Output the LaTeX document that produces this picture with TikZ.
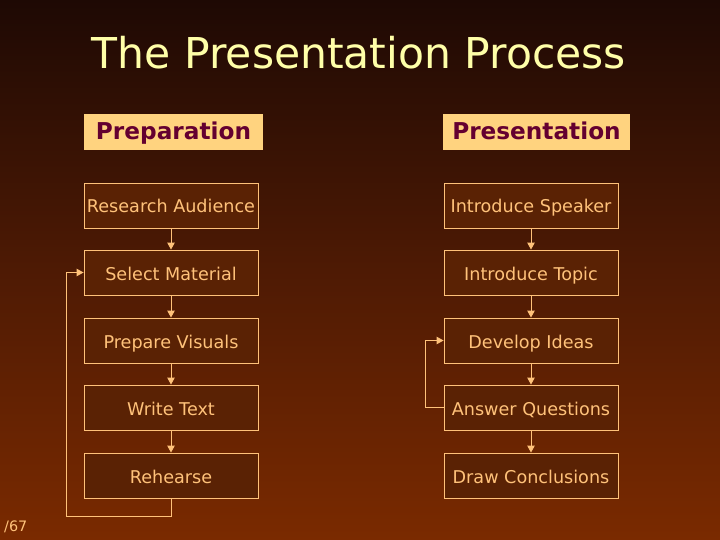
\documentclass[tikz,border=0pt]{standalone}
\usepackage{fontspec}
\setmainfont{DejaVu Sans}
\usetikzlibrary{arrows.meta}
\definecolor{bgtop}{HTML}{1E0904}
\definecolor{bgmid}{HTML}{4E1A04}
\definecolor{bgbot}{HTML}{7A2A00}
\definecolor{boxfill}{HTML}{5A2204}
\definecolor{boxline}{HTML}{FFC27A}
\definecolor{boxtext}{HTML}{FFC27A}
\definecolor{headfill}{HTML}{FFD37F}
\definecolor{headtext}{HTML}{640030}
\definecolor{titlecol}{HTML}{FFFFA8}
\tikzset{
  stepbox/.style={draw=boxline, line width=0.9pt, fill=boxfill, text=boxtext,
    minimum width=174pt, minimum height=45pt, inner sep=0pt,
    text height=17.5pt, text depth=2.5pt,
    font=\fontsize{17.6pt}{20pt}\selectfont},
  headbox/.style={fill=headfill, text=headtext, inner sep=0pt,
    minimum height=36pt, text height=19.5pt, text depth=3.5pt,
    font=\fontsize{23.2pt}{26pt}\selectfont\bfseries},
  flow/.style={draw=boxline, line width=0.9pt, -{Triangle[width=7.5pt,length=7pt]}},
}
\begin{document}
\begin{tikzpicture}[x=1pt,y=-1pt]
\shade[top color=bgtop, bottom color=bgbot, middle color=bgmid] (0,0) rectangle (720,540);
\useasboundingbox (0,0) rectangle (720,540);
\node[text=titlecol, font=\fontsize{42.5pt}{46pt}\selectfont] (title) at (359,53) {The Presentation Process};
\node[headbox, minimum width=179pt] (h1) at (173.5,132) {Preparation};
\node[headbox, minimum width=187pt] (h2) at (536.5,132) {Presentation};
% left column
\node[stepbox] (l1) at (171,205.5) {Research Audience};
\node[stepbox] (l2) at (171,272.5) {Select Material};
\node[stepbox] (l3) at (171,340.5) {Prepare Visuals};
\node[stepbox] (l4) at (171,407.5) {Write Text};
\node[stepbox] (l5) at (171,475.5) {Rehearse};
% right column
\node[stepbox] (r1) at (531,205.5) {Introduce Speaker};
\node[stepbox] (r2) at (531,272.5) {Introduce Topic};
\node[stepbox] (r3) at (531,340.5) {Develop Ideas};
\node[stepbox] (r4) at (531,407.5) {Answer Questions};
\node[stepbox] (r5) at (531,475.5) {Draw Conclusions};
\foreach \a/\b in {l1/l2,l2/l3,l3/l4,l4/l5,r1/r2,r2/r3,r3/r4,r4/r5}
  \draw[flow] (\a.south) -- (\b.north);
\coordinate (lb) at (171,516);
\coordinate (lc) at (66,516);
\coordinate (ld) at (66,272.5);
\draw[flow] (l5.south) -- (lb) -- (lc) -- (ld) -- (l2.west);
\coordinate (ra) at (425,407.5);
\coordinate (rb) at (425,340.5);
\draw[flow] (r4.west) -- (ra) -- (rb) -- (r3.west);
\node[text=boxtext, anchor=west, font=\fontsize{14.4pt}{16pt}\selectfont, inner sep=0pt] (pg) at (4,527) {/67};
\end{tikzpicture}
\end{document}
